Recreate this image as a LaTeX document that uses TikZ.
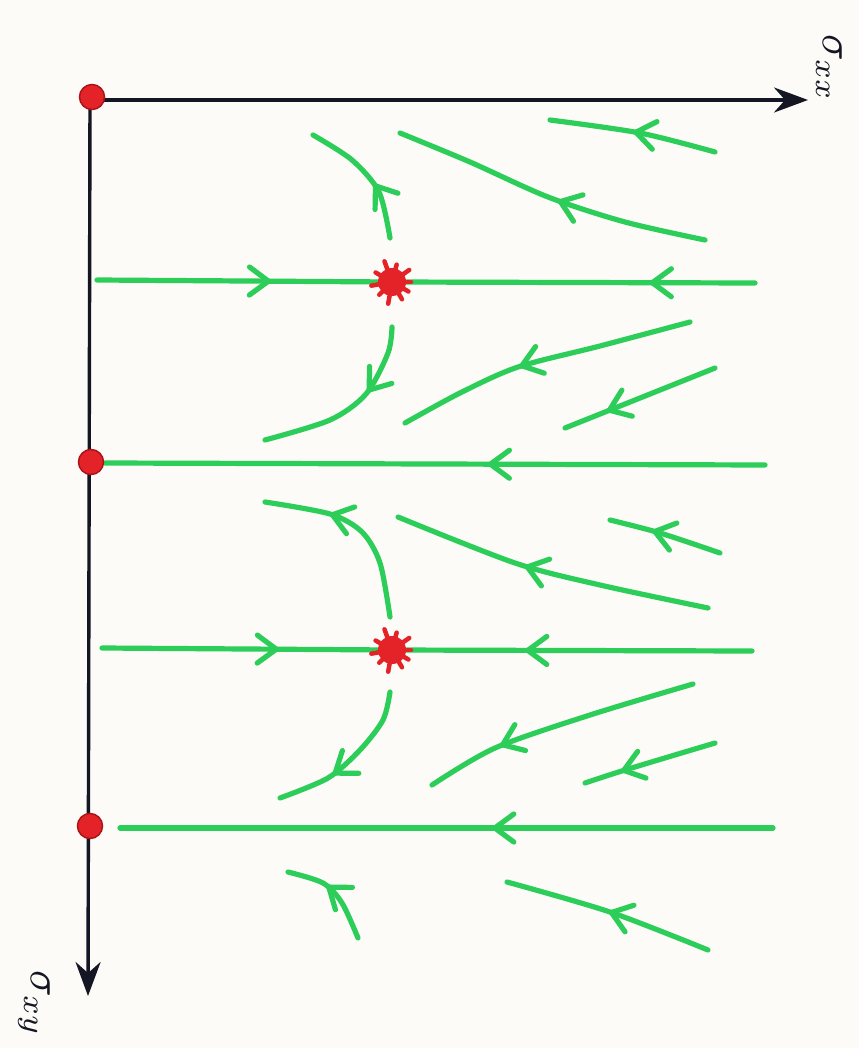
\documentclass[tikz,border=0pt]{standalone}
\usetikzlibrary{arrows.meta,decorations.markings}
\definecolor{pgreen}{RGB}{45,205,90}
\definecolor{pred}{RGB}{228,35,40}
\definecolor{pdred}{RGB}{170,20,25}
\definecolor{paper}{RGB}{252,251,247}
\definecolor{ink}{RGB}{20,22,35}
\tikzset{
  traj/.style={pgreen,line width=5.2pt,line cap=round,line join=round},
  flow/.style={decoration={markings,mark=at position #1 with {\arrow{Straight Barb[length=19pt,width=28pt,round]}}},postaction={decorate}},
  axisline/.style={ink,line width=3.4pt,-{Stealth[length=34pt,width=25pt]}},
  fixdot/.style={circle,fill=pred,draw=pdred,line width=1.5pt,minimum size=25pt,inner sep=0pt},
  lbl/.style={ink,rotate=-90,inner sep=0pt}
}
\newcommand{\saddlestar}[1]{%
  \foreach \a/\r in {0/19,35/21,75/18,110/22,150/19,190/21,225/18,260/22,300/20,330/19}
    \draw[pred,line width=4.5pt,line cap=round] (#1) -- ++(\a:\r pt);
  \fill[pred] (#1) circle (14pt);
}
\begin{document}
\begin{tikzpicture}[x=1pt,y=-1pt]
\fill[paper] (0,0) rectangle (859,1048);
\useasboundingbox (0,0) rectangle (859,1048);

% named points
\coordinate (O) at (90,100);
\coordinate (Xend) at (808,100);
\coordinate (Yend) at (88,996);
\coordinate (S1) at (392,282);
\coordinate (S2) at (392,650);

% horizontal trajectories
\coordinate (L1a) at (97,280);  \coordinate (L1b) at (755,283);
\coordinate (L2a) at (105,463); \coordinate (L2b) at (765,465);
\coordinate (L3a) at (102,648); \coordinate (L3b) at (752,651);
\coordinate (L4a) at (120,828); \coordinate (L4b) at (773,828);

\draw[traj,flow=0.59] (L1a) -- (S1);
\draw[traj,flow=0.29] (L1b) -- (S1);
\draw[traj,flow=0.42] (L2b) -- (L2a);
\draw[traj,flow=0.61] (L3a) -- (S2);
\draw[traj,flow=0.63] (L3b) -- (S2);
\draw[traj,flow=0.43] (L4b) -- (L4a);

% curved trajectories
\draw[traj,flow=0.42] plot[smooth] coordinates {(390,238) (379,192) (352,160) (313,135)};
\draw[traj,flow=0.47] plot[smooth] coordinates {(705,240) (625,222) (548,197) (470,162) (400,133)};
\draw[traj,flow=0.5]  plot[smooth] coordinates {(715,152) (640,133) (550,120)};

\draw[traj,flow=0.38] plot[smooth] coordinates {(392,327) (388,353) (366,394) (330,420) (265,440)};
\draw[traj,flow=0.58] plot[smooth] coordinates {(690,322) (600,346) (518,367) (460,393) (405,423)};
\draw[traj,flow=0.72] plot[smooth] coordinates {(715,368) (640,398) (565,428)};

\draw[traj,flow=0.66] plot[smooth] coordinates {(390,617) (380,563) (362,532) (330,514) (265,502)};
\draw[traj,flow=0.58] plot[smooth] coordinates {(708,608) (600,585) (515,563) (398,517)};
\draw[traj,flow=0.62] plot[smooth] coordinates {(720,553) (660,533) (610,520)};

\draw[traj,flow=0.64] plot[smooth] coordinates {(390,692) (383,720) (360,750) (328,778) (280,798)};
\draw[traj,flow=0.72] plot[smooth] coordinates {(693,684) (590,715) (495,748) (432,785)};
\draw[traj,flow=0.72] plot[smooth] coordinates {(715,743) (625,770) (585,783)};

\draw[traj,flow=0.6] plot[smooth] coordinates {(358,938) (342,903) (323,883) (288,872)};
\draw[traj,flow=0.5] plot[smooth] coordinates {(708,950) (610,912) (507,882)};

% axes
\draw[axisline] (O) -- (Xend);
\draw[axisline] (O) -- (Yend);

% fixed points
\node[fixdot] (P1) at (92,97) {};
\node[fixdot] (P2) at (91,462) {};
\node[fixdot] (P3) at (90,826) {};
\saddlestar{S1}
\saddlestar{S2}

% labels
\node[lbl,anchor=west] (lx) at (829,34) {\scalebox{4.4}{$\sigma_{xx}$}};
\node[lbl,anchor=west] (ly) at (34,970) {\scalebox{4.4}{$\sigma_{xy}$}};
\end{tikzpicture}
\end{document}
